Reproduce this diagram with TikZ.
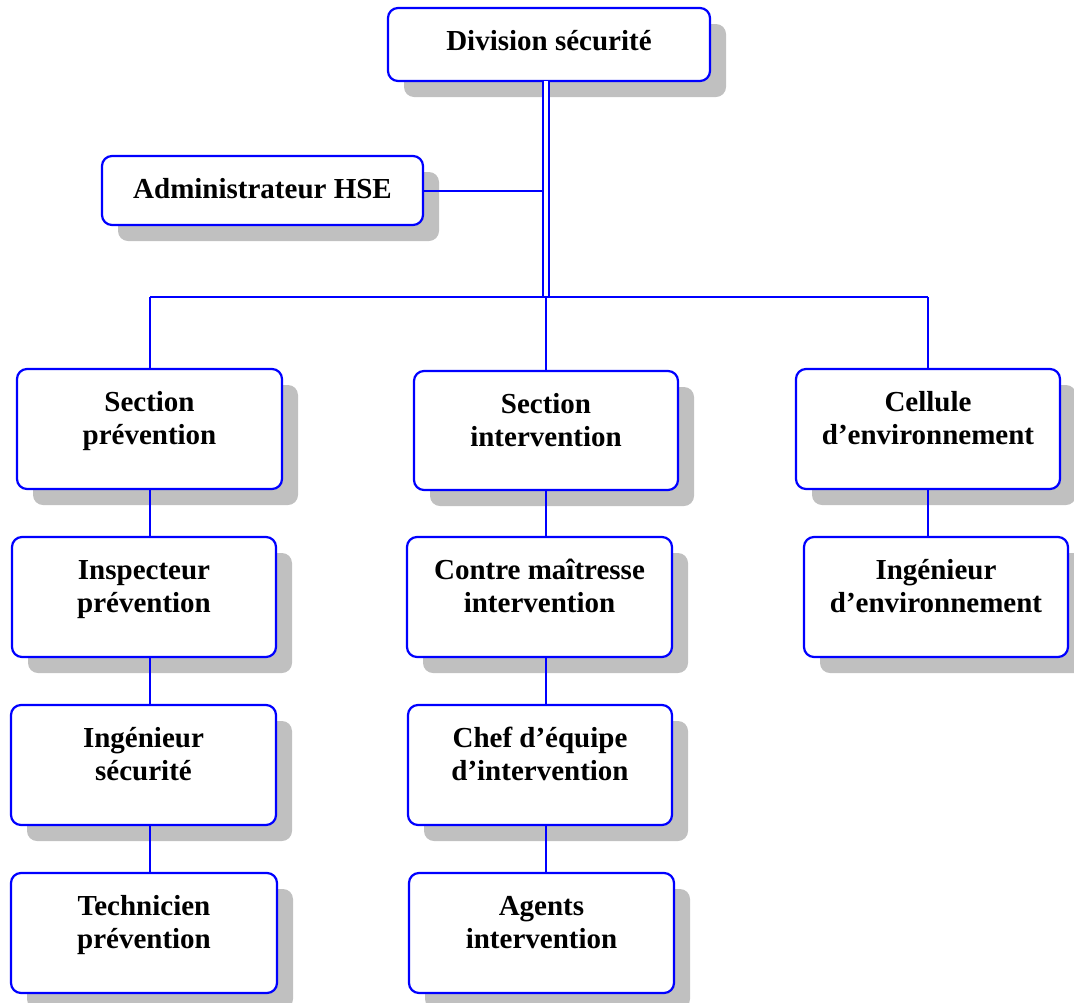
\documentclass[tikz,border=0pt]{standalone}
\usepackage{fontspec}
\setmainfont{Liberation Serif}
\usetikzlibrary{shadows}
\definecolor{shadowgray}{RGB}{192,192,192}
\definecolor{linkblue}{RGB}{0,0,255}
\tikzset{
  unit/.style={draw=linkblue, line width=2.2pt, rounded corners=10pt, fill=white,
    inner sep=0pt, outer sep=0pt,
    drop shadow={shadow xshift=16pt, shadow yshift=-16pt, fill=shadowgray, opacity=1}},
  link/.style={draw=linkblue, line width=2pt},
  doublelink/.style={draw=linkblue, line width=2pt, double=white, double distance=3.6pt}
}
% #1 name, #2 #3 centre, #4 width, #5 height, #6 text
\newcommand{\orgunit}[6]{%
  \node[unit] (#1) at (#2,#3) {\parbox[c][#5pt][t]{#4pt}{\centering
    \fontsize{29}{33}\selectfont\bfseries\vspace*{18.9pt}\strut #6}};}
\begin{document}
\begin{tikzpicture}[x=1pt, y=-1pt]
  \useasboundingbox (0,0) rectangle (1074,1002);

  % junction points of the trunk and the bus
  \coordinate (hub)  at (546,297);
  \coordinate (busL) at (150,297);
  \coordinate (busR) at (928,297);

  % connectors are drawn first so boxes sit on top of them
  \path (0,0);
  \orgunit{div}{549}{44.5}{322}{73}{Division sécurité}
  \orgunit{adm}{262.5}{190.5}{321}{69}{Administrateur HSE}

  \orgunit{sp}{149.5}{429}{265}{120}{Section\\prévention}
  \orgunit{si}{546}{430.5}{264}{119}{Section\\intervention}
  \orgunit{ce}{928}{429}{264}{120}{Cellule\\d’environnement}

  \orgunit{ip}{144}{597}{264}{120}{Inspecteur\\prévention}
  \orgunit{cm}{539.5}{597}{265}{120}{Contre maîtresse\\intervention}
  \orgunit{ie}{936}{597}{264}{120}{Ingénieur\\d’environnement}

  \orgunit{is}{143.5}{765}{265}{120}{Ingénieur\\sécurité}
  \orgunit{ch}{540}{765}{264}{120}{Chef d’équipe\\d’intervention}

  \orgunit{tp}{144}{933}{266}{120}{Technicien\\prévention}
  \orgunit{ag}{541.5}{933}{265}{120}{Agents\\intervention}

  % trunk from the division down to the bus
  \draw[doublelink] (div.south -| hub) -- (hub);
  \draw[link] (adm.east) -- ([xshift=-3.5pt]adm.east -| hub);
  \draw[link] (busL) -- (busR);

  % drops to the three sections
  \draw[link] (busL) -- (sp.north -| busL);
  \draw[link] (hub)  -- (si.north -| hub);
  \draw[link] (busR) -- (ce.north -| busR);

  % prevention column
  \draw[link] (sp.south -| busL) -- (ip.north -| busL);
  \draw[link] (ip.south -| busL) -- (is.north -| busL);
  \draw[link] (is.south -| busL) -- (tp.north -| busL);

  % intervention column
  \draw[link] (si.south -| hub) -- (cm.north -| hub);
  \draw[link] (cm.south -| hub) -- (ch.north -| hub);
  \draw[link] (ch.south -| hub) -- (ag.north -| hub);

  % environment column
  \draw[link] (ce.south -| busR) -- (ie.north -| busR);
\end{tikzpicture}
\end{document}
